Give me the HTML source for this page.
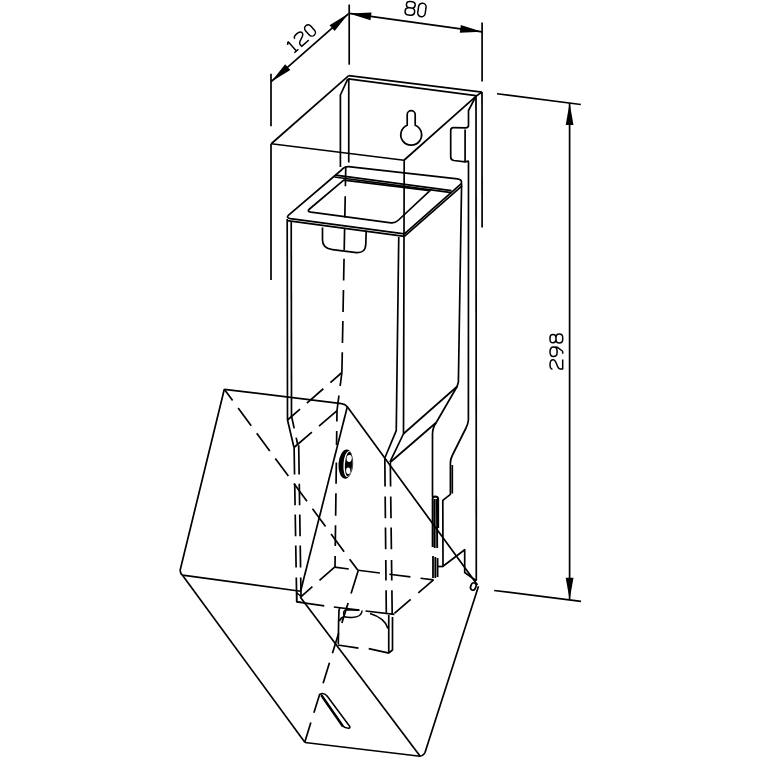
<!DOCTYPE html>
<html><head><meta charset="utf-8"><style>
html,body{margin:0;padding:0;background:#fff;width:760px;height:760px;overflow:hidden}
svg{display:block}
text{font-family:"Liberation Sans",sans-serif}
</style></head><body>
<svg width="760" height="760" viewBox="0 0 760 760">
<g fill="none" stroke="#000" stroke-width="1.7" stroke-linejoin="round" stroke-linecap="butt">
<path d="M349.20 4.50 L349.20 64.70"/>
<path d="M482.10 22.50 L482.10 81.50"/>
<path d="M271.00 73.75 L271.00 126.25"/>
<path d="M349.20 13.40 L482.10 31.80"/>
<path d="M349.20 13.40 L370.46 20.28 L371.53 12.55 Z" fill="#000" stroke="none"/>
<path d="M482.10 31.80 L460.84 24.92 L459.77 32.65 Z" fill="#000" stroke="none"/>
<path d="M348.60 13.60 L271.20 81.70"/>
<path d="M348.60 13.60 L329.51 25.20 L334.66 31.06 Z" fill="#000" stroke="none"/>
<path d="M271.20 81.70 L290.29 70.10 L285.14 64.24 Z" fill="#000" stroke="none"/>
<path d="M497.00 93.75 L580.80 104.50"/>
<path d="M494.20 590.50 L581.00 601.30"/>
<path d="M569.60 103.00 L569.60 599.70"/>
<path d="M569.60 103.00 L565.70 125.00 L573.50 125.00 Z" fill="#000" stroke="none"/>
<path d="M569.60 599.70 L573.50 577.70 L565.70 577.70 Z" fill="#000" stroke="none"/>
<path d="M3.6 -6.7 L5.4 -6.7 C7.6 -6.7 8.6 -7.7 8.6 -9.7 C8.6 -11.7 7.6 -12.7 5.4 -12.7 L3.6 -12.7 C1.4 -12.7 0.4 -11.7 0.4 -9.7 C0.4 -7.7 1.4 -6.7 3.6 -6.7 Z M3.5 -6.7 C1.2 -6.7 0 -5.6 0 -3.4 C0 -1.1 1.2 0 3.5 0 L5.5 0 C7.8 0 9 -1.1 9 -3.4 C9 -5.6 7.8 -6.7 5.5 -6.7 Z" transform="translate(404.6 14.4) rotate(8.0) scale(1.07) translate(0 0)" stroke-width="1.402"/>
<path d="M0 -9.2 A3.5 3.5 0 0 1 7 -9.2 L7 -3.5 A3.5 3.5 0 0 1 0 -3.5 Z" transform="translate(404.6 14.4) rotate(8.0) scale(1.07) translate(11.95 0)" stroke-width="1.402"/>
<path d="M0 -12.7 L0 0 M-2.5 -10.5 L0 -12.7 M-2.7 0 L2.7 0" transform="translate(296.4 51.0) rotate(-41.5) scale(1.0) translate(0 0)" stroke-width="1.500"/>
<path d="M0.4 -10.2 C0.4 -12.3 2.4 -12.7 5.0 -12.7 C8.0 -12.7 9.9 -11.6 9.9 -9.6 C9.9 -7.6 7.6 -6.7 4.6 -5.7 C1.6 -4.7 0.5 -4.0 0.5 -2.0 L0.5 0 L10.1 0" transform="translate(296.4 51.0) rotate(-41.5) scale(1.0) translate(6.5 0)" stroke-width="1.500"/>
<path d="M0 -9.2 A3.5 3.5 0 0 1 7 -9.2 L7 -3.5 A3.5 3.5 0 0 1 0 -3.5 Z" transform="translate(296.4 51.0) rotate(-41.5) scale(1.0) translate(20.3 0)" stroke-width="1.500"/>
<path d="M0.4 -10.2 C0.4 -12.3 2.4 -12.7 5.0 -12.7 C8.0 -12.7 9.9 -11.6 9.9 -9.6 C9.9 -7.6 7.6 -6.7 4.6 -5.7 C1.6 -4.7 0.5 -4.0 0.5 -2.0 L0.5 0 L10.1 0" transform="translate(562.7 369.6) rotate(-90) scale(1.0) translate(0 0)" stroke-width="1.500"/>
<path d="M4.0 -5.6 C1.3 -5.6 0 -6.9 0 -9.2 C0 -11.5 1.5 -12.7 4.5 -12.7 C7.5 -12.7 9.6 -11.5 9.6 -9.2 C9.6 -6.9 8.4 -5.6 5.6 -5.6 Z M9.5 -8.0 L9.3 -5.2 L5.6 -0.4 Q5.2 0 4.6 0 L2.8 0" transform="translate(562.7 369.6) rotate(-90) scale(1.0) translate(13.0 0)" stroke-width="1.500"/>
<path d="M3.6 -6.7 L5.4 -6.7 C7.6 -6.7 8.6 -7.7 8.6 -9.7 C8.6 -11.7 7.6 -12.7 5.4 -12.7 L3.6 -12.7 C1.4 -12.7 0.4 -11.7 0.4 -9.7 C0.4 -7.7 1.4 -6.7 3.6 -6.7 Z M3.5 -6.7 C1.2 -6.7 0 -5.6 0 -3.4 C0 -1.1 1.2 0 3.5 0 L5.5 0 C7.8 0 9 -1.1 9 -3.4 C9 -5.6 7.8 -6.7 5.5 -6.7 Z" transform="translate(562.7 369.6) rotate(-90) scale(1.0) translate(26.5 0)" stroke-width="1.500"/>
<path d="M271.25 143.75 L348.75 75.60"/>
<path d="M348.75 75.60 L482.00 92.10"/>
<path d="M348.30 78.90 L475.90 95.60"/>
<path d="M482.00 92.10 L475.90 96.30"/>
<path d="M271.25 143.75 L404.00 160.25"/>
<path d="M404.00 160.25 L475.90 96.30"/>
<path d="M271.00 143.75 L271.00 280.00"/>
<path d="M348.75 78.50 L348.75 162.50"/>
<path d="M340.40 166.90 L340.40 95.00 L347.80 78.80"/>
<path d="M482.00 92.10 L482.10 227.50"/>
<path d="M476.00 95.70 L476.30 580.80"/>
<path d="M475.9 96.3 L468.5 110.5 L468.5 125.5 Q468.5 127.8 465.5 127.8 L453.5 127.7 Q450.7 127.7 450.7 130.5 L450.7 157 Q450.7 160 453.8 160.5 L465.1 161.9 L465.1 129.4"/>
<path d="M465.1 161.9 L468.3 161.1 Q468.5 161.5 468.5 163 L468.4 420 Q468 424 466 428 L452.5 455 Q450.4 459 450.4 463 L450.4 494.3 L442.8 500.3 L443 566.3 L464.7 549.7 L464.7 572.5 L476.2 580.8"/>
<path d="M452.30 465.00 L452.30 493.50"/>
<path d="M407.2 125.2 L407.2 114.6 A4 4 0 0 1 415.2 114.6 L415.2 125.2 A10.4 10.4 0 1 1 407.2 125.2 Z"/>
<path d="M348.5 166.6 L457.5 178.8 Q462.5 179.6 461.3 183.6 L404.4 233.9 L290.5 218.6 Q285.6 217.8 288.6 215.2 L341.5 170.0 Q344.5 166.2 349.5 166.7 Z"/>
<path d="M287.20 220.60 L404.40 236.40"/>
<path d="M404.40 236.40 L462.00 185.80"/>
<path d="M335.60 175.20 L451.50 190.60"/>
<path d="M334.50 177.00 L451.50 192.60"/>
<path d="M343.75 180.2 L430 190.6 L398 220.5 Q395 223.2 391 222.8 L311 212.2 Q306.5 211.5 309.5 209 Z"/>
<path d="M322.5 227.5 L322.5 240 Q322.5 248.6 332.5 249.6 L356.5 252.6 Q365.6 253.2 365.8 244 L366.2 230.6"/>
<path d="M287.20 219.00 L287.50 420.00 L294.00 447.50"/>
<path d="M291.20 221.00 L291.50 416.00"/>
<path d="M398.75 237.00 L396.25 430.60 L385.00 457.50"/>
<path d="M404.20 160.25 L403.50 433.75 L390.00 461.90"/>
<path d="M403.50 433.75 L457.10 386.50"/>
<path d="M461.60 183.60 L458.40 382.00 L457.10 386.50 L436.25 422.50"/>
<path d="M436.25 422.5 Q432.5 428 432.5 434 L432.5 497"/>
<path d="M436.25 422.50 L390.00 462.50"/>
<path d="M432.6 498 L432.6 547 M434.7 499 L434.7 548 M436.9 499 L437.2 548 M432.6 498 Q433 496.5 435 496.5 Q438.2 496.8 438.2 499 L438.2 528" stroke-width="1.9"/>
<path d="M433 556 L433 578 M435.3 557 L435.3 578 M437.6 558 L437.6 577" stroke-width="1.8"/>
<path d="M443.00 566.50 L437.60 566.50"/>
<path d="M345.78 166.50 L345.41 186.30 M345.22 196.30 L344.82 217.50 M344.62 228.00 L344.21 250.00 M344.04 258.80 L343.63 280.60 M343.45 290.00 L343.04 311.90 M342.87 321.00 L342.46 343.00 M342.28 352.20 L341.90 372.50"/>
<path d="M341.90 372.50 L340.16 386.00 M338.94 395.50 L337.00 410.60"/>
<path d="M337.00 410.60 L336.86 421.60 M336.74 431.00 L336.56 445.00 M336.34 462.50 L336.06 483.80 M335.94 493.30 L335.65 515.80 M335.53 525.30 L335.27 546.00 M335.14 556.00 L335.00 567.00"/>
<path d="M291.50 416.00 L294.19 428.40 M296.18 437.60 L297.61 444.20"/>
<path d="M298.70 445.30 L299.14 474.40 M299.29 483.80 L299.61 505.20 M299.76 514.60 L300.09 536.30 M300.23 545.60 L300.57 567.50 M300.72 577.50 L301.00 596.00"/>
<path d="M294.10 447.50 L294.55 474.40 M294.71 483.80 L295.07 505.20 M295.23 514.60 L295.60 536.30 M295.75 545.60 L296.12 567.50 M296.29 577.50 L296.70 601.90"/>
<path d="M384.80 457.50 L385.08 486.60 M385.18 496.60 L385.39 518.20 M385.48 527.60 L385.69 549.30 M385.79 559.90 L385.99 580.60 M386.09 590.30 L386.30 612.80"/>
<path d="M390.31 462.90 L390.60 486.60 M390.73 496.60 L391.00 518.20 M391.11 527.60 L391.39 549.30 M391.52 559.90 L391.78 580.60 M391.90 590.30 L392.20 614.40"/>
<path d="M287.50 420.00 L300.00 409.09 M306.90 403.06 L323.30 388.74 M330.40 382.54 L341.90 372.50"/>
<path d="M294.00 447.50 L311.90 432.17 M319.00 426.10 L337.10 410.60"/>
<path d="M334.60 567.20 L348.75 569.02 M358.10 570.22 L379.90 573.02 M389.30 574.22 L410.40 576.93 M420.50 578.23 L433.50 579.90"/>
<path d="M418.30 592.93 L433.50 579.90 M394.40 613.43 L410.70 599.45"/>
<path d="M296.70 601.80 L324.30 605.90"/>
<path d="M333.80 607.00 L359.20 610.20"/>
<path d="M365.50 611.00 L394.40 614.40"/>
<path d="M300.00 597.60 L312.40 586.71 M319.50 580.47 L334.60 567.20"/>
<path d="M224.3 389.3 L341.5 403.6 Q345.5 404.2 347.5 406.9 L477.5 585"/>
<path d="M347.20 407.20 L300.60 591.25"/>
<path d="M224.3 389.3 L180.3 569.5 Q179.8 573.2 182.5 575.2 L300.6 591.25"/>
<path d="M182.50 575.20 L305.00 742.50"/>
<path d="M305 742.5 L418 756 Q423 756.8 425 752.5 L478.5 586.3"/>
<path d="M300.60 597.50 L420.00 756.00"/>
<path d="M296.7 590.6 L296.7 601.8 L301.5 602.4 M297 593 L301.8 597" stroke-width="1.4"/>
<path d="M224.3 389.3 L358.1 570.6" stroke-dasharray="22 9.3" stroke-dashoffset="8"/>
<path d="M358.10 570.90 L351.09 593.40 M348.13 602.90 L341.87 623.00 M338.73 633.10 L332.43 653.30 M329.48 662.80 L323.12 683.20 M319.85 693.70 L313.90 712.80 M310.85 722.60 L304.90 741.70"/>
<ellipse cx="473.3" cy="586.5" rx="2.6" ry="3.8" transform="rotate(20 473.3 586.5)"/>
<ellipse cx="345.85" cy="464.1" rx="7.35" ry="14.6" transform="rotate(4 345.85 464.1)" fill="#000" stroke="none"/>
<ellipse cx="348.0" cy="464.0" rx="4.5" ry="13.0" transform="rotate(4 348 464)" fill="#fff" stroke="none"/>
<ellipse cx="348.6" cy="464.0" rx="3.7" ry="12.3" transform="rotate(4 348.6 464)" fill="#000" stroke="none"/>
<ellipse cx="349.2" cy="458.5" rx="2.6" ry="3.4" transform="rotate(6 349.2 458.5)" fill="#fff" stroke="none"/>
<ellipse cx="348.25" cy="470.8" rx="2.15" ry="3.2" transform="rotate(-4 348.25 470.8)" fill="#fff" stroke="none"/>
<path d="M321.2 694.8 L342.6 725.8 Q344.6 728.3 348.5 728.2 Q350.8 728 349.6 726.3 L327.5 696.5 Q325.6 693.6 322.5 693.4 Q319.8 693.2 321.2 694.8 Z" stroke-width="1.5"/>
<path d="M321.50 695.50 L343.00 726.50" stroke-width="2.4"/>
<path d="M388.75 615.00 L388.75 653.00"/>
<path d="M392.50 617.00 L392.50 650.00 L388.75 653.00"/>
<path d="M389.00 653.20 L368.70 648.60"/>
<path d="M358.50 648.20 L337.80 645.00"/>
<path d="M338.30 644.00 L338.60 622.00 L339.00 610.00 L340.00 607.50"/>
<path d="M339.2 621 Q341 617.8 344 616.6"/>
<path d="M370 613.5 Q385 618 388 628.6"/>
<path d="M359.5 610.3 L346 609.8 Q342 611.5 344.5 616.5 Q346.5 617.5 352 617.5 Q361.5 617.3 362.2 610.5" stroke-width="1.5"/>
</g></svg></body></html>
